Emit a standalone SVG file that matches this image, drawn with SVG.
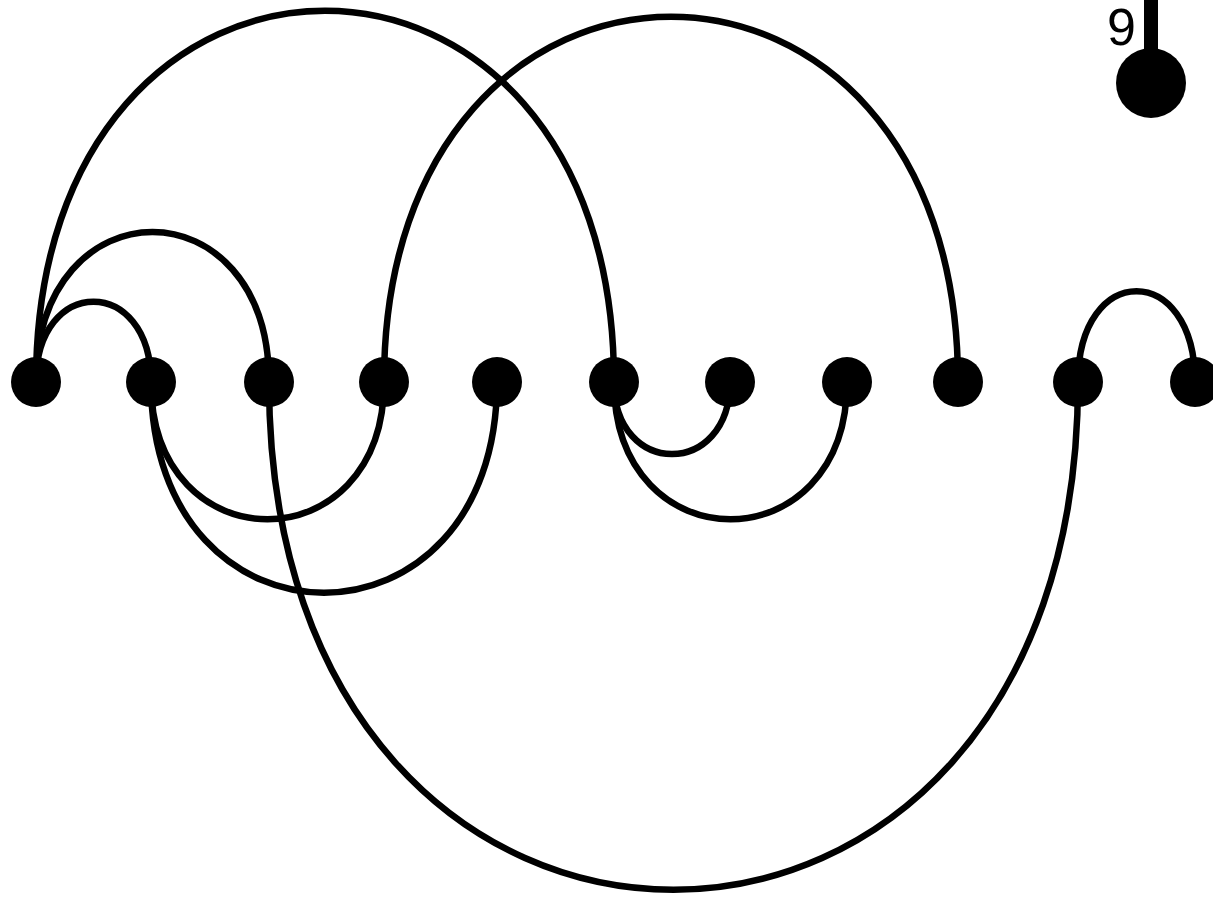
<svg xmlns="http://www.w3.org/2000/svg" width="1213" height="901" viewBox="0 0 1213 901">
<style>
.arc{fill:none;stroke:#000;stroke-width:6.5;}
.node{fill:#000;}
.lbl{font-family:"Liberation Sans",Arial,sans-serif;font-size:52px;fill:#000;}
</style>
<rect width="1213" height="901" fill="#fff"/>
<g id="connectors">
<path class="arc" d="M36,382 C36,275 151,275 151,382"/>
<path class="arc" d="M36,382 C36,182 269,182 269,382"/>
<path class="arc" d="M36,382 C36,-113 614,-113 614,382"/>
<path class="arc" d="M384,382 C384,-105 958,-105 958,382"/>
<path class="arc" d="M1078,382 C1078,261 1195,261 1195,382"/>
<path class="arc" d="M151,382 C151,565 384,565 384,382"/>
<path class="arc" d="M151,382 C151,663 497,663 497,382"/>
<path class="arc" d="M269,382 C269,1059 1078,1059 1078,382"/>
<path class="arc" d="M614,382 C614,478 730,478 730,382"/>
<path class="arc" d="M614,382 C614,565 847,565 847,382"/>
<line x1="1151" y1="0" x2="1151" y2="60" stroke="#000" stroke-width="14"/>
</g>
<g id="n1"><circle class="node" cx="36" cy="382" r="25"/></g>
<g id="n2"><circle class="node" cx="151" cy="382" r="25"/></g>
<g id="n3"><circle class="node" cx="269" cy="382" r="25"/></g>
<g id="n4"><circle class="node" cx="384" cy="382" r="25"/></g>
<g id="n5"><circle class="node" cx="497" cy="382" r="25"/></g>
<g id="n6"><circle class="node" cx="614" cy="382" r="25"/></g>
<g id="n7"><circle class="node" cx="730" cy="382" r="25"/></g>
<g id="n8"><circle class="node" cx="847" cy="382" r="25"/></g>
<g id="n9"><circle class="node" cx="958" cy="382" r="25"/></g>
<g id="n10"><circle class="node" cx="1078" cy="382" r="25"/></g>
<g id="n11"><circle class="node" cx="1195" cy="382" r="25"/></g>
<g id="n12"><circle class="node" cx="1151" cy="83" r="35"/><text class="lbl" x="1107" y="45">9</text></g>
</svg>
